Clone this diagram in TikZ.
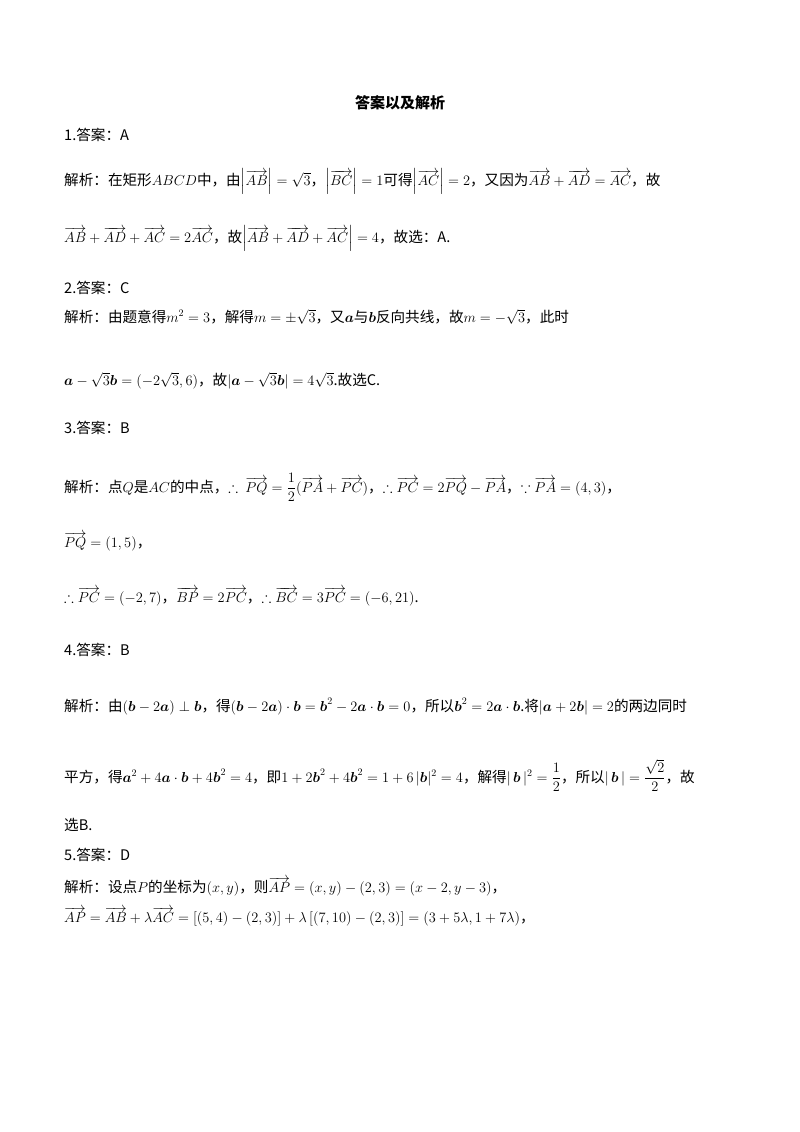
\documentclass[tikz,border=0pt]{standalone}
\usepackage{amsmath,amssymb}
\usepackage{fontspec}
\setmainfont{Liberation Serif}
\newfontfamily\cjk{Noto Sans CJK SC}
\newcommand{\vv}[1]{\overrightarrow{#1}}
\newcommand{\bv}[1]{\boldsymbol{#1}}
\begin{document}
\begin{tikzpicture}[x=1pt,y=-1pt,
  txt/.style={anchor=base west,inner sep=0pt,font=\fontsize{14.6}{17}\selectfont\cjk}]
\useasboundingbox[fill=white] (0,0) rectangle (800,1132);
\node[anchor=base,inner sep=0pt,font=\fontsize{15}{17}\selectfont\cjk\bfseries] (t) at (400,108) {答案以及解析};
\node[txt] (l1) at (64,140) {1.答案：A};
\node[txt] (l2) at (64,185) {解析：在矩形$ABCD$中，由$\left|\vv{AB}\right|=\sqrt3$，$\left|\vv{BC}\right|=1$可得$\left|\vv{AC}\right|=2$，又因为$\vv{AB}+\vv{AD}=\vv{AC}$，故};
\node[txt] (l3) at (64,242) {$\vv{AB}+\vv{AD}+\vv{AC}=2\vv{AC}$，故$\left|\vv{AB}+\vv{AD}+\vv{AC}\right|=4$，故选：A.};
\node[txt] (l4) at (64,293) {2.答案：C};
\node[txt] (l5) at (64,322) {解析：由题意得$m^2=3$，解得$m=\pm\sqrt3$，又$\bv a$与$\bv b$反向共线，故$m=-\sqrt3$，此时};
\node[txt] (l6) at (64,385) {$\bv a-\sqrt3\bv b=(-2\sqrt3,6)$，故$|\bv a-\sqrt3\bv b|=4\sqrt3$.故选C.};
\node[txt] (l7) at (64,433) {3.答案：B};
\node[txt] (l8) at (64,492) {解析：点$Q$是$AC$的中点，$\therefore\ \vv{PQ}=\dfrac12(\vv{PA}+\vv{PC})$，$\therefore\vv{PC}=2\vv{PQ}-\vv{PA}$，$\because\vv{PA}=(4,3)$，};
\node[txt] (l9) at (64,547) {$\vv{PQ}=(1,5)$，};
\node[txt] (l10) at (64,602) {$\therefore\vv{PC}=\left(-2,7\right)$，$\vv{BP}=2\vv{PC}$，$\therefore\vv{BC}=3\vv{PC}=\left(-6,21\right)$.};
\node[txt] (l11) at (64,655) {4.答案：B};
\node[txt] (l12) at (64,711) {解析：由$(\bv b-2\bv a)\perp\bv b$，得$(\bv b-2\bv a)\cdot\bv b=\bv b^2-2\bv a\cdot\bv b=0$，所以$\bv b^2=2\bv a\cdot\bv b$.将$|\bv a+2\bv b|=2$的两边同时};
\node[txt] (l13) at (64,782) {平方，得$\bv a^2+4\bv a\cdot\bv b+4\bv b^2=4$，即$1+2\bv b^2+4\bv b^2=1+6\,|\bv b|^2=4$，解得$|\,\bv b\,|^2=\dfrac12$，所以$|\,\bv b\,|=\dfrac{\sqrt2}{2}$，故};
\node[txt] (l14) at (64,830) {选B.};
\node[txt] (l15) at (64,860) {5.答案：D};
\node[txt] (l16) at (64,892) {解析：设点$P$的坐标为$(x,y)$，则$\vv{AP}=(x,y)-(2,3)=(x-2,y-3)$，};
\node[txt] (l17) at (64,922) {$\vv{AP}=\vv{AB}+\lambda\vv{AC}=\left[(5,4)-(2,3)\right]+\lambda\left[(7,10)-(2,3)\right]=(3+5\lambda,1+7\lambda)$，};
\end{tikzpicture}
\end{document}
